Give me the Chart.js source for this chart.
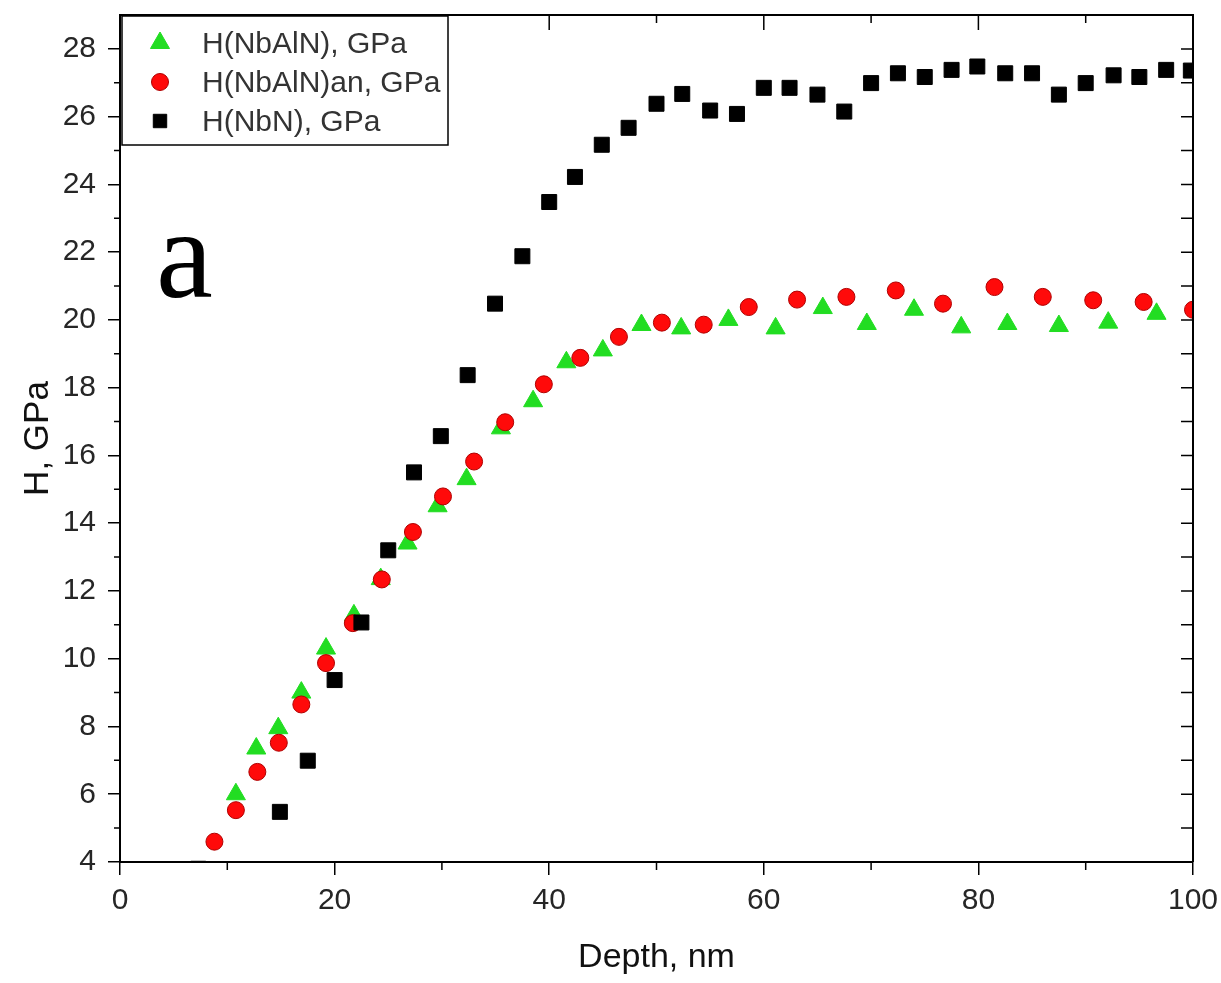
<!DOCTYPE html>
<html>
<head>
<meta charset="utf-8">
<script src="https://cdn.jsdelivr.net/npm/chart.js@4.4.0/dist/chart.umd.min.js"></script>
<style>
  body { margin: 0; background: #fff; }
  #wrap { width: 1221px; height: 983px; position: relative; }
</style>
</head>
<body>
<div id="wrap"><canvas id="hardnessChart"></canvas></div>
<script>
// H(NbAlN), GPa
const nbalnDepth = [10.8, 12.7, 14.75, 16.9, 19.2, 21.8, 24.3, 26.8, 29.6, 32.3, 35.5, 38.5, 41.6, 45.0, 48.6, 52.3, 56.7, 61.1, 65.5, 69.6, 74.0, 78.4, 82.7, 87.5, 92.1, 96.6];
const nbalnH = [6.0, 7.35, 7.95, 9.0, 10.3, 11.28, 12.35, 13.4, 14.5, 15.3, 16.8, 17.6, 18.75, 19.1, 19.85, 19.75, 20.0, 19.75, 20.35, 19.88, 20.3, 19.78, 19.88, 19.82, 19.92, 20.18];

// H(NbAlN)an, GPa
const annealedDepth = [8.8, 10.8, 12.8, 14.8, 16.9, 19.2, 21.7, 24.4, 27.3, 30.1, 33.0, 35.9, 39.5, 42.9, 46.5, 50.5, 54.4, 58.6, 63.1, 67.7, 72.3, 76.7, 81.5, 86.0, 90.7, 95.4, 100.0];
const annealedH = [4.6, 5.53, 6.66, 7.52, 8.65, 9.87, 11.05, 12.34, 13.74, 14.79, 15.82, 16.98, 18.1, 18.88, 19.5, 19.92, 19.86, 20.38, 20.6, 20.68, 20.87, 20.48, 20.97, 20.68, 20.58, 20.53, 20.3];

// H(NbN), GPa
const nbnDepth = [7.3, 14.9, 17.5, 20.0, 22.5, 25.0, 27.4, 29.9, 32.4, 34.95, 37.5, 40.0, 42.4, 44.9, 47.4, 50.0, 52.4, 55.0, 57.5, 60.0, 62.4, 65.0, 67.5, 70.0, 72.5, 75.0, 77.5, 79.9, 82.5, 85.0, 87.5, 90.0, 92.6, 95.0, 97.5, 99.8];
const nbnH = [3.8, 5.48, 6.99, 9.37, 11.07, 13.2, 15.5, 16.57, 18.37, 20.48, 21.88, 23.48, 24.22, 25.17, 25.67, 26.38, 26.67, 26.18, 26.08, 26.85, 26.85, 26.65, 26.15, 26.99, 27.28, 27.17, 27.38, 27.48, 27.28, 27.28, 26.65, 26.99, 27.22, 27.17, 27.38, 27.36];

const xTicks = [0, 20, 40, 60, 80, 100];
const yTicks = [4, 6, 8, 10, 12, 14, 16, 18, 20, 22, 24, 26, 28];

function toPoints(xs, ys) {
  return xs.map(function (x, i) { return { x: x, y: ys[i] }; });
}

const seriesList = [
  { label: "H(NbAlN), GPa", data: toPoints(nbalnDepth, nbalnH), pointStyle: "triangle", pointRadius: 11,
    backgroundColor: "#22dd22", borderColor: "#22dd22", order: 2 },
  { label: "H(NbAlN)an, GPa", data: toPoints(annealedDepth, annealedH), pointStyle: "circle", pointRadius: 8.5,
    backgroundColor: "#ff0a0a", borderColor: "#b00000", order: 1 },
  { label: "H(NbN), GPa", data: toPoints(nbnDepth, nbnH), pointStyle: "rect", pointRadius: 10.6,
    backgroundColor: "#000000", borderColor: "#000000", order: 0 }
];

const frameAndLegend = {
  id: "frameAndLegend",
  afterDraw: function (chart) {
    const ctx = chart.ctx;
    const area = chart.chartArea;
    const xs = chart.scales.x;
    const ys = chart.scales.y;
    ctx.save();
    ctx.strokeStyle = "#000";

    // top and right frame lines
    ctx.lineWidth = 2;
    ctx.beginPath();
    ctx.moveTo(area.left, area.top);
    ctx.lineTo(area.right, area.top);
    ctx.lineTo(area.right, area.bottom);
    ctx.stroke();

    ctx.lineWidth = 1.5;
    ctx.beginPath();
    // bottom minor ticks
    for (let v = 10; v < 100; v += 20) {
      const px = xs.getPixelForValue(v);
      ctx.moveTo(px, area.bottom);
      ctx.lineTo(px, area.bottom + 8);
    }
    // left minor ticks
    for (let v = 5; v < 29; v += 2) {
      const py = ys.getPixelForValue(v);
      ctx.moveTo(area.left - 6, py);
      ctx.lineTo(area.left, py);
    }
    // top ticks (inward)
    for (let v = 10; v < 100; v += 10) {
      const px = xs.getPixelForValue(v);
      ctx.moveTo(px, area.top);
      ctx.lineTo(px, area.top + (v % 20 === 0 ? 15 : 8));
    }
    // right ticks (inward)
    for (let v = 5; v <= 28; v += 1) {
      const py = ys.getPixelForValue(v);
      ctx.moveTo(area.right, py);
      ctx.lineTo(area.right - 12, py);
    }
    ctx.stroke();

    // legend box
    const bx = area.left + 2, by = area.top + 1, bw = 326, bh = 129;
    ctx.fillStyle = "#fff";
    ctx.fillRect(bx, by, bw, bh);
    ctx.lineWidth = 1.5;
    ctx.strokeRect(bx, by, bw, bh);
    const rows = [27, 66, 105];
    ctx.font = "30px 'Liberation Sans', Arial, sans-serif";
    ctx.textBaseline = "middle";
    seriesList.forEach(function (s, i) {
      const cy = by + rows[i];
      const cx = bx + 38;
      ctx.fillStyle = s.backgroundColor;
      ctx.strokeStyle = s.borderColor;
      ctx.lineWidth = 1;
      let r = s.pointStyle === "rect" ? 9.5 : s.pointStyle === "triangle" ? 11 : 8.5;
      Chart.helpers.drawPoint(ctx, { pointStyle: s.pointStyle, radius: r, borderWidth: 1 }, cx, cy);
      ctx.fillStyle = "#333";
      ctx.fillText(s.label, bx + 80, cy + 2);
    });

    // panel letter
    ctx.fillStyle = "#000";
    ctx.font = "128px 'Liberation Serif', 'Times New Roman', serif";
    ctx.textBaseline = "alphabetic";
    ctx.fillText("a", 156, 297);
    ctx.restore();
  }
};

const ctx = document.getElementById("hardnessChart").getContext("2d");
window.myChart = new Chart(ctx, {
  type: "scatter",
  data: {
    datasets: seriesList.map(function (s) {
      return {
        label: s.label,
        data: s.data,
        pointStyle: s.pointStyle,
        pointRadius: s.pointRadius,
        pointHoverRadius: s.pointRadius,
        pointBackgroundColor: s.backgroundColor,
        pointBorderColor: s.borderColor,
        pointBorderWidth: 1,
        showLine: false,
        order: s.order
      };
    })
  },
  options: {
    responsive: true,
    maintainAspectRatio: false,
    animation: false,
    layout: { padding: { top: 15, right: 28, left: 0, bottom: 0 } },
    plugins: {
      legend: { display: false },
      tooltip: { enabled: false }
    },
    scales: {
      x: {
        type: "linear",
        min: 0,
        max: 100,
        afterBuildTicks: function (scale) {
          scale.ticks = xTicks.map(function (v) { return { value: v }; });
        },
        afterFit: function (scale) {
          scale.height = 121;
          scale.paddingLeft = 0;
          scale.paddingRight = 0;
        },
        border: { color: "#000", width: 2 },
        grid: { drawOnChartArea: false, color: "#000", tickLength: 13, lineWidth: 1.5 },
        ticks: {
          padding: 8,
          color: "#262626",
          font: { family: "'Liberation Sans', Arial, sans-serif", size: 30 }
        },
        title: {
          display: true,
          text: "Depth, nm",
          color: "#111",
          padding: { top: 0, bottom: 5 },
          font: { family: "'Liberation Sans', Arial, sans-serif", size: 34 }
        }
      },
      y: {
        type: "linear",
        min: 4,
        max: 29,
        afterBuildTicks: function (scale) {
          scale.ticks = yTicks.map(function (v) { return { value: v }; });
        },
        afterFit: function (scale) {
          scale.width = 120;
          scale.paddingTop = 0;
          scale.paddingBottom = 0;
        },
        border: { color: "#000", width: 2 },
        grid: { drawOnChartArea: false, color: "#000", tickLength: 12, lineWidth: 1.5 },
        ticks: {
          padding: 12,
          color: "#262626",
          font: { family: "'Liberation Sans', Arial, sans-serif", size: 30 }
        },
        title: {
          display: true,
          text: "H, GPa",
          color: "#111",
          padding: { top: 17, bottom: 0 },
          font: { family: "'Liberation Sans', Arial, sans-serif", size: 35 }
        }
      }
    }
  },
  plugins: [frameAndLegend]
});
</script>
</body>
</html>
